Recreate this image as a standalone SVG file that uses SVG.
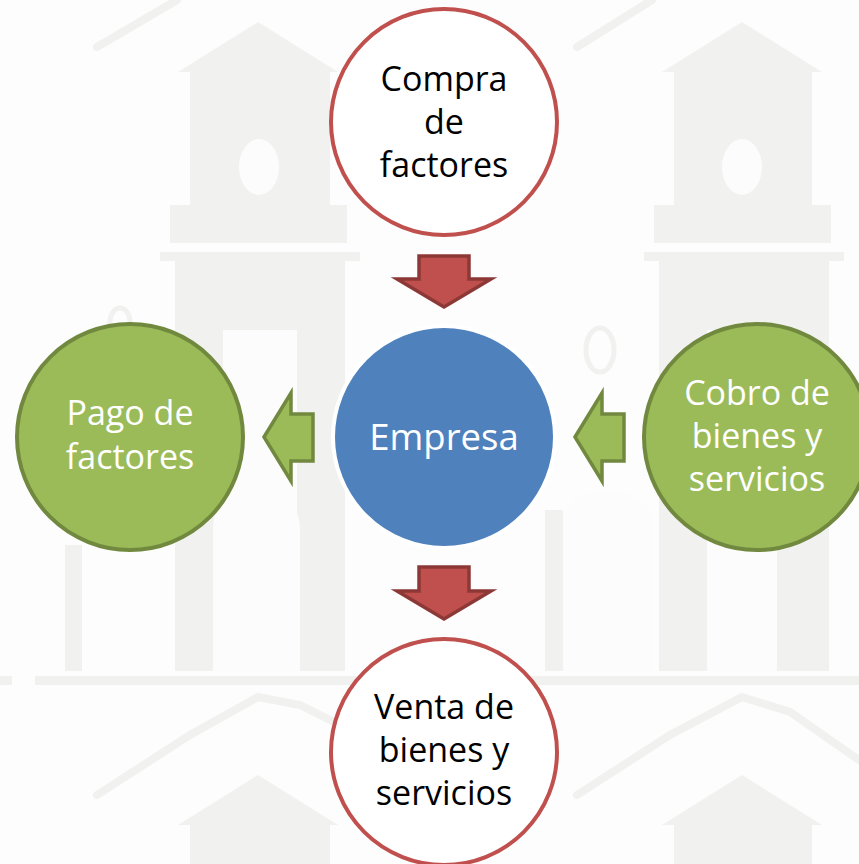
<svg xmlns="http://www.w3.org/2000/svg" width="859" height="864" viewBox="0 0 859 864">
  <style>
    .wm { fill: #f1f1ef; }
    .wmw { fill: #fcfcfc; }
    .wml { stroke: #f1f1ef; stroke-width: 8; fill: none; stroke-linecap: round; }
    .red { fill: #ffffff; stroke: #c0504d; stroke-width: 4; }
    .green { fill: #9bbb59; stroke: #71893f; stroke-width: 4; }
    .blue { fill: #4f81bd; stroke: #ffffff; stroke-width: 4; }
    .arr-red { fill: #c0504d; stroke: #8c3836; stroke-width: 3.5; stroke-linejoin: miter; }
    .arr-green { fill: #9bbb59; stroke: #71893f; stroke-width: 3.5; stroke-linejoin: miter; }
    text { font-family: "Open Sans", "Liberation Sans", sans-serif; font-size: 34px; text-anchor: middle; }
    .dark { fill: #000000; }
    .light { fill: #ffffff; }
  </style>
  <rect width="859" height="864" fill="#fdfdfd"/>
  <!-- faint watermark background -->
  <g id="watermark">
    <line class="wml" x1="97" y1="47" x2="177" y2="0"/>
    <line class="wml" x1="577" y1="47" x2="652" y2="0"/>
    <!-- left tower -->
    <polygon class="wm" points="258,22 338,72 178,72"/>
    <rect class="wm" x="190" y="72" width="140" height="135"/>
    <ellipse class="wmw" cx="259" cy="167" rx="20" ry="28"/>
    <rect class="wm" x="170" y="205" width="177" height="38"/>
    <rect class="wm" x="160" y="252" width="200" height="9"/>
    <rect class="wm" x="175" y="261" width="170" height="410"/>
    <path class="wmw" d="M223,671 L223,330 L297,330 L297,671 Z"/>
    <rect class="wm" x="65" y="545" width="17" height="126"/>
    <path class="wmw" d="M213,671 L213,530 Q213,492 256,492 Q300,492 300,530 L300,671 Z"/>
    <!-- right tower -->
    <polygon class="wm" points="742,22 822,72 662,72"/>
    <rect class="wm" x="674" y="72" width="138" height="135"/>
    <ellipse class="wmw" cx="742" cy="167" rx="20" ry="28"/>
    <rect class="wm" x="654" y="205" width="177" height="38"/>
    <rect class="wm" x="644" y="252" width="200" height="9"/>
    <rect class="wm" x="659" y="261" width="170" height="410"/>
    <path class="wmw" d="M707,671 L707,330 L777,330 L777,671 Z"/>
    <rect class="wm" x="545" y="510" width="18" height="161"/>
    <path class="wmw" d="M563,671 L563,530 Q563,492 608,492 Q653,492 653,530 L653,671 Z"/>
    <ellipse cx="600" cy="350" rx="14" ry="22" fill="none" stroke="#f1f1ef" stroke-width="5"/>
    <ellipse cx="120" cy="322" rx="10" ry="14" fill="none" stroke="#f1f1ef" stroke-width="5"/>
    <!-- ground line -->
    <rect class="wm" x="35" y="676" width="824" height="9"/>
    <rect class="wm" x="0" y="676" width="12" height="9"/>
    <!-- lower roofs -->
    <polyline class="wml" points="97,795 190,735 258,697 300,705 340,725"/>
    <polyline class="wml" points="577,795 670,735 742,697 790,712 859,760"/>
    <polygon class="wm" points="258,775 338,825 178,825"/>
    <rect class="wm" x="190" y="825" width="140" height="39"/>
    <polygon class="wm" points="742,775 822,825 662,825"/>
    <rect class="wm" x="674" y="825" width="138" height="39"/>
  </g>

  <g id="connectors">
    <polygon id="arrow-top" class="arr-red" points="419,256 469,256 469,279 491,279 444,307 397,279 419,279"/>
    <polygon id="arrow-bottom" class="arr-red" points="419,567 469,567 469,591 491,591 444,619 397,591 419,591"/>
    <polygon id="arrow-left" class="arr-green" points="264,437 291,393 291,414 313,414 313,461 291,461 291,481"/>
    <polygon id="arrow-right" class="arr-green" points="575,437 602,393 602,414 624,414 624,461 602,461 602,481"/>
  </g>

  <g id="node-compra">
    <circle class="red" cx="444" cy="122" r="113"/>
    <text class="dark" x="444" y="91">Compra</text>
    <text class="dark" x="444" y="134">de</text>
    <text class="dark" x="444" y="177">factores</text>
  </g>

  <g id="node-empresa">
    <circle class="blue" cx="444" cy="437" r="111"/>
    <text class="light" x="444" y="450" style="font-size:36.5px">Empresa</text>
  </g>

  <g id="node-pago">
    <circle class="green" cx="130" cy="437" r="113"/>
    <text class="light" x="130" y="425">Pago de</text>
    <text class="light" x="130" y="469">factores</text>
  </g>

  <g id="node-cobro">
    <circle class="green" cx="757" cy="437" r="113"/>
    <text class="light" x="757" y="405">Cobro de</text>
    <text class="light" x="757" y="448">bienes y</text>
    <text class="light" x="757" y="491">servicios</text>
  </g>

  <g id="node-venta">
    <circle class="red" cx="444" cy="752" r="113"/>
    <text class="dark" x="444" y="719">Venta de</text>
    <text class="dark" x="444" y="762">bienes y</text>
    <text class="dark" x="444" y="805">servicios</text>
  </g>
</svg>
